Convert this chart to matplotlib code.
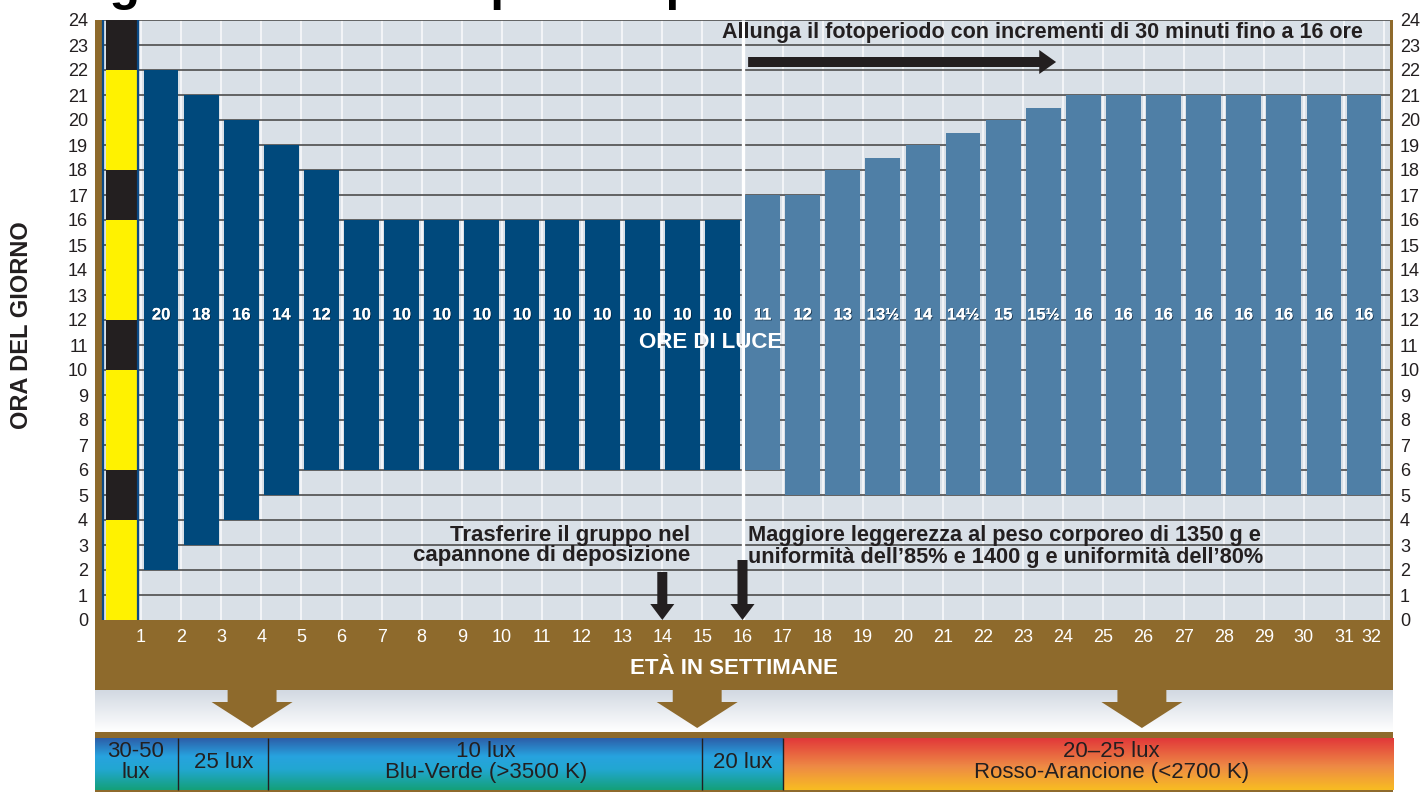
import matplotlib
matplotlib.use("Agg")
import matplotlib.pyplot as plt
import matplotlib.patheffects as pe
import numpy as np
from matplotlib import font_manager
from matplotlib.colors import LinearSegmentedColormap
from matplotlib.patches import Polygon, FancyArrow

# --- data -------------------------------------------------------------------
weeks = list(range(1, 32))
lights_on = [2, 3, 4, 5, 6, 6, 6, 6, 6, 6, 6, 6, 6, 6, 6,
             6, 5, 5, 5, 5, 5, 5, 5, 5, 5, 5, 5, 5, 5, 5, 5]
lights_off = [22, 21, 20, 19, 18, 16, 16, 16, 16, 16, 16, 16, 16, 16, 16,
              17, 17, 18, 18.5, 19, 19.5, 20, 20.5, 21, 21, 21, 21, 21, 21, 21, 21]
last_rearing_week = 15

# intermittent program of the first days (hour of day)
day1_light_start = [0, 6, 12, 18]
day1_light_end = [4, 10, 16, 22]
day1_dark_start = [4, 10, 16, 22]
day1_dark_end = [6, 12, 18, 24]

hour_ticks = list(range(0, 25))
week_ticks = list(range(1, 33))

# light intensity / colour zones along the weeks axis
zone_edges = [1.92, 4.17, 15.0, 17.0]
zone_kind = ["blue", "blue", "blue", "blue", "red"]
zone_labels = ["30-50\nlux", "25 lux", "10 lux\nBlu-Verde (>3500 K)", "20 lux",
               "20–25 lux\nRosso-Arancione (<2700 K)"]
zone_label_x = [0.86, 3.05, 9.6, 16.0, 25.2]

transfer_week = 14
stimulation_week = 16

# --- style ------------------------------------------------------------------
names = {f.name for f in font_manager.fontManager.ttflist}
NARROW = "Liberation Sans Narrow" if "Liberation Sans Narrow" in names else "Liberation Sans"
plt.rcParams["font.family"] = "Liberation Sans"

BG = "#d9e0e7"
BROWN = "#8e6a2c"
DARK_BAR = "#00497c"
LIGHT_BAR = "#4f7fa6"
INK = "#231f20"

W, H = 1422, 792
fig = plt.figure(figsize=(W / 100, H / 100), dpi=100)

px = 40.1  # pixels per week
x0 = 1 - (141 - 95) / px
x1 = 1 + (1393 - 141) / px

# --- main chart ------------------------------------------------------------
ax = fig.add_axes([95 / W, (H - 620) / H, (1393 - 95) / W, 600 / H])
ax.set_facecolor(BG)
for s in ax.spines.values():
    s.set_visible(False)
ax.set_xticks([])
ax.set_yticks(hour_ticks)
ax.tick_params(axis="y", length=0, labelsize=13, labelcolor=INK,
               labelleft=True, labelright=True, pad=5)

ax.vlines(week_ticks, 0, 24, colors="#f3f5f8", lw=1.4, zorder=1)
ax.hlines(hour_ticks[1:], 0.025, 32.15, colors="#4d4d4d", lw=1.2, zorder=1.2)
ax.vlines(stimulation_week, 0, 24, colors="white", lw=2.4, zorder=1.5)

ax.axvspan(x0, 0.025, color=BROWN, zorder=3, lw=0)
ax.axvspan(32.15, x1, color=BROWN, zorder=3, lw=0)
ax.vlines([0.06, 0.93], 0, 24, colors="#0b4a85", lw=1.6, zorder=3)

ax.bar(0.515, np.subtract(day1_light_end, day1_light_start), bottom=day1_light_start,
       width=0.775, color="#fff200", zorder=2.5)
ax.bar(0.515, np.subtract(day1_dark_end, day1_dark_start), bottom=day1_dark_start,
       width=0.775, color=INK, zorder=2.5)

hours = np.subtract(lights_off, lights_on)
colors = [DARK_BAR if w <= last_rearing_week else LIGHT_BAR for w in weeks]
ax.bar([w + 0.5 for w in weeks], hours, bottom=lights_on, width=0.87,
       color=colors, zorder=2)


def fmt_hours(h):
    whole = int(h)
    return f"{whole}½" if h - whole else f"{whole}"


shadow = [pe.withSimplePatchShadow(offset=(0.7, -0.7), shadow_rgbFace="#0a2238", alpha=0.7),
          pe.Normal()]
for w, h in zip(weeks, hours):
    ax.text(w + 0.5, 12.2, fmt_hours(h), color="white", fontsize=12, fontweight="bold",
            family=NARROW, ha="center", va="center", zorder=4, path_effects=shadow)

ax.text(15.2, 11.1, "ORE DI LUCE", color="white", fontsize=16, fontweight="bold",
        ha="center", va="center", zorder=4)

ax.text(15.49, 23.5, "Allunga il fotoperiodo con incrementi di 30 minuti fino a 16 ore",
        fontsize=15.5, fontweight="bold", color=INK, ha="left", va="center", zorder=4)
ax.add_patch(FancyArrow(16.14, 22.32, 23.82 - 16.14, 0, width=0.4, head_width=0.96,
                        head_length=0.42, length_includes_head=True, color=INK,
                        lw=0, zorder=4))

ax.text(14.69, 2.98, "Trasferire il gruppo nel\ncapannone di deposizione",
        fontsize=16, fontweight="bold", color=INK, ha="right", va="center",
        multialignment="right", linespacing=1.0, zorder=4)
ax.text(16.14, 2.94, "Maggiore leggerezza al peso corporeo di 1350 g e\n"
        "uniformità dell’85% e 1400 g e uniformità dell’80%",
        fontsize=15.7, fontweight="bold", color=INK, ha="left", va="center",
        linespacing=1.1, zorder=4)

for wk, start in [(transfer_week, 1.92), (stimulation_week, 2.4)]:
    ax.add_patch(FancyArrow(wk, start, 0, -start, width=0.25, head_width=0.6,
                            head_length=0.64, length_includes_head=True, color=INK,
                            lw=0, zorder=4))

ax.set_xlim(x0, x1)
ax.set_ylim(0, 24)

# --- bottom band: week axis and lighting zones ------------------------------
axb = fig.add_axes([95 / W, 0, (1393 - 95) / W, 172 / H])
axb.axis("off")

axb.axhspan(620, 690, color=BROWN, lw=0)
for w in week_ticks:
    # keep the last label inside the band
    axb.text(min(w, x1 - 0.55), 638, str(w), color="white", fontsize=13,
             ha="center", va="center")
axb.text(15.79, 668, "ETÀ IN SETTIMANE", color="white", fontsize=16,
         fontweight="bold", ha="center", va="center")

fade = LinearSegmentedColormap.from_list("fade", ["#d2d9e2", "#ffffff"])
grad = np.linspace(0, 1, 64).reshape(-1, 1)
axb.imshow(grad, extent=[x0, x1, 732, 690], cmap=fade, aspect="auto", zorder=0)

axb.axhspan(732, 738, color=BROWN, lw=0)
axb.axhspan(790, 792, color=BROWN, lw=0)

cmaps = {
    "blue": LinearSegmentedColormap.from_list(
        "bg", [(0, "#2d5fa9"), (0.35, "#27a3df"), (0.6, "#22a7d2"), (1, "#14a07a")]),
    "red": LinearSegmentedColormap.from_list(
        "ro", [(0, "#e2393a"), (0.55, "#ee8a45"), (1, "#f8bc22")]),
}
edges = [x0] + zone_edges + [x1]
for i, kind in enumerate(zone_kind):
    axb.imshow(grad, extent=[edges[i], edges[i + 1], 790, 738], cmap=cmaps[kind],
               aspect="auto", zorder=1)
    axb.text(zone_label_x[i], 762, zone_labels[i], color=INK, fontsize=16,
             family=NARROW, ha="center", va="center", linespacing=1.05, zorder=3)
axb.vlines(zone_edges, 738, 790, colors=INK, lw=1, zorder=2)

for tip in [3.77, 14.87, 25.96]:
    axb.add_patch(Polygon([(tip - 0.61, 689), (tip + 0.61, 689), (tip + 0.61, 702),
                           (tip + 1.01, 702), (tip, 728), (tip - 1.01, 702),
                           (tip - 0.61, 702)], closed=True, color=BROWN, lw=0, zorder=2))

axb.set_xlim(x0, x1)
axb.set_ylim(792, 620)

# --- titles -----------------------------------------------------------------
fig.text(26 / W, 1.0, "Programma di luce per i capannoni oscurati", fontsize=36,
         fontweight="bold", color="black", ha="left", va="baseline")
fig.text(22 / W, 1 - 325 / H, "ORA DEL GIORNO", rotation=90, fontsize=17,
         fontweight="bold", color=INK, ha="center", va="center")

fig.savefig("out.png", dpi=100)
